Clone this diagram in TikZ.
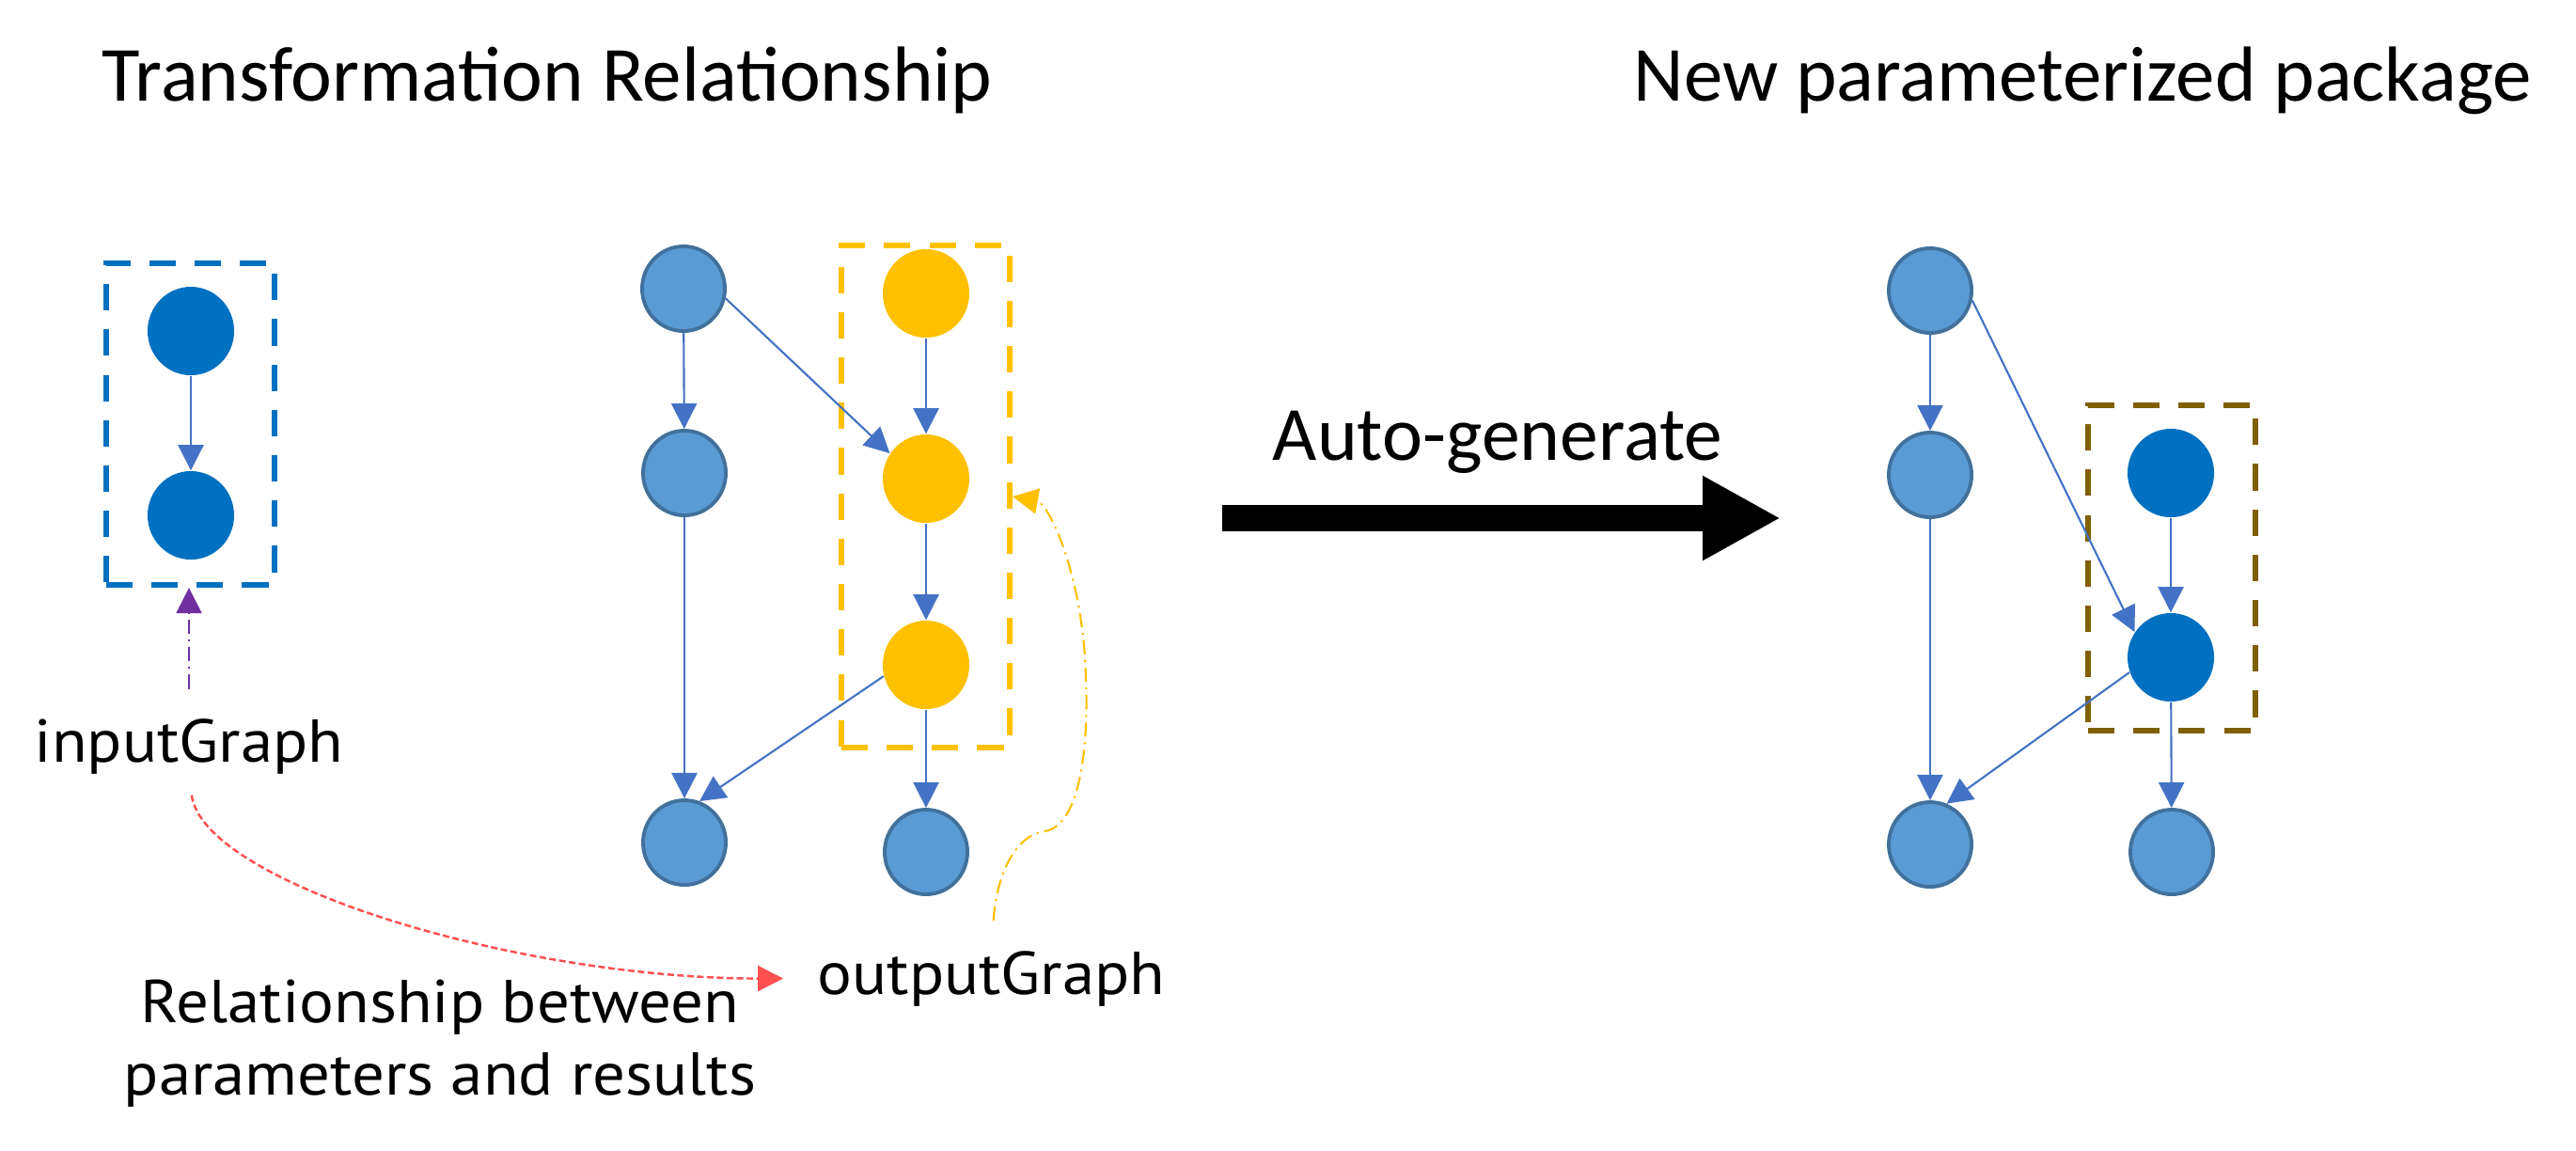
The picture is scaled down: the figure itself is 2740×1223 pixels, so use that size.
\documentclass[tikz,border=0pt]{standalone}
\usepackage{fontspec}
\setmainfont{Carlito}
\newfontfamily\plexfont[FakeStretch=1.07]{PT Sans}
\usetikzlibrary{shapes.geometric,arrows.meta}
\definecolor{lightnode}{HTML}{5B9BD5}
\definecolor{nodeline}{HTML}{41719C}
\definecolor{darknode}{HTML}{0070C0}
\definecolor{goldnode}{HTML}{FFC000}
\definecolor{edgeblue}{HTML}{4472C4}
\definecolor{boxbrown}{HTML}{7F6000}
\definecolor{purplec}{HTML}{7030A0}
\definecolor{redc}{HTML}{FF5050}
\begin{document}
\begin{tikzpicture}[x=0.01cm,y=-0.01cm,
  lnode/.style={ellipse, fill=lightnode, draw=nodeline, line width=1.1pt,
    minimum width=0.88cm, minimum height=0.90cm, inner sep=0pt},
  dnode/.style={ellipse, fill=darknode, minimum width=0.92cm, minimum height=0.94cm, inner sep=0pt},
  gnode/.style={ellipse, fill=goldnode, minimum width=0.92cm, minimum height=0.94cm, inner sep=0pt},
  edge/.style={draw=edgeblue, line width=0.6pt, -{Triangle[length=7.7pt,width=7.7pt]}},
  dbox/.style={rectangle, line width=1.7pt, dash pattern=on 8pt off 5.7pt, inner sep=0pt},
  titlef/.style={font=\fontsize{23.6pt}{28pt}\selectfont, inner sep=0pt},
  plexf/.style={font=\plexfont\fontsize{18.3pt}{21.9pt}\selectfont, inner sep=0pt},
  dashdot/.style={line width=0.6pt, dash pattern=on 4.3pt off 1.7pt on 0.6pt off 1.7pt},
  thintip/.style={-{Triangle[length=7.7pt,width=7.7pt]}}
]
\fill[white] (0,0) rectangle (2740,1223);
\useasboundingbox (0,0) rectangle (2740,1223);

% titles
\node[titlef, anchor=base] (t1) at (582,107) {Transformation Relationship};
\node[titlef, anchor=base] (t2) at (2215,107) {New parameterized package};

% left graph
\node[dbox, draw=darknode, minimum width=1.79cm, minimum height=3.42cm] (lbox) at (202.5,451) {};
\node[dnode] (l1) at (203,352) {};
\node[dnode] (l2) at (203,548) {};
\draw[edge] (l1) -- (l2);
\node[plexf, anchor=base] (ig) at (201,810) {inputGraph};

% middle graph
\node[dbox, draw=goldnode, minimum width=1.79cm, minimum height=5.34cm] (ybox) at (984.5,528) {};
\node[lnode] (a) at (727,307) {};
\node[lnode] (b) at (728,503) {};
\node[lnode] (c) at (728,896) {};
\node[gnode] (y1) at (985,312) {};
\node[gnode] (y2) at (985,509) {};
\node[gnode] (y3) at (985,707) {};
\node[lnode] (d) at (985,906) {};
\draw[edge] (a) -- (b);
\draw[edge] (b) -- (c);
\draw[edge] (a.-13) -- (y2.145);
\draw[edge] (y1) -- (y2);
\draw[edge] (y2) -- (y3);
\draw[edge] (y3) -- (d);
\draw[edge] (y3.-165) -- (c.70);
\node[plexf, anchor=base] (og) at (1054.5,1057) {outputGraph};

% relationship label
\node[plexf, align=center] (rel) at (468,1110) {Relationship between\\parameters and results};

% auto-generate arrow
\node[titlef, font=\fontsize{23.2pt}{28pt}\selectfont, anchor=base] (ag) at (1593,489) {Auto-generate};
\coordinate (agL) at (1300,551);
\coordinate (agR) at (1894,551);
\draw[line width=7.97pt, -{Triangle[length=23.6pt,width=23.9pt]}] (agL) -- (agR);

% right graph
\node[dbox, draw=boxbrown, minimum width=1.78cm, minimum height=3.46cm] (rbox) at (2310,604) {};
\node[lnode] (ra) at (2053,309) {};
\node[lnode] (rb) at (2053,505) {};
\node[lnode] (rc) at (2053,898) {};
\node[dnode] (rd1) at (2309,503) {};
\node[dnode] (rd2) at (2309,699) {};
\node[lnode] (re) at (2310,906) {};
\draw[edge] (ra) -- (rb);
\draw[edge] (rb) -- (rc);
\draw[edge] (ra.-13) -- (rd2.145);
\draw[edge] (rd1) -- (rd2);
\draw[edge] (rd2) -- (re);
\draw[edge] (rd2.-160) -- (rc.68);

% annotation connectors
\draw[purplec, dashdot, thintip, shorten <=8.8pt] (ig.north) -- (ig.north |- lbox.south);
\draw[redc, line width=0.7pt, dash pattern=on 2pt off 1pt, thintip, shorten <=6.3pt, shorten >=10.2pt]
  (ig.south) .. controls +(15,115) and +(-320,0) .. (og.west);
\draw[goldnode, dashdot, thintip, shorten <=9pt]
  (og.north) .. controls (1060,930) and (1080,888) .. (1111,884)
  .. controls (1150,878) and (1158,790) .. (1155,720)
  .. controls (1152,610) and (1115,535) .. (ybox.east);
\end{tikzpicture}
\end{document}
